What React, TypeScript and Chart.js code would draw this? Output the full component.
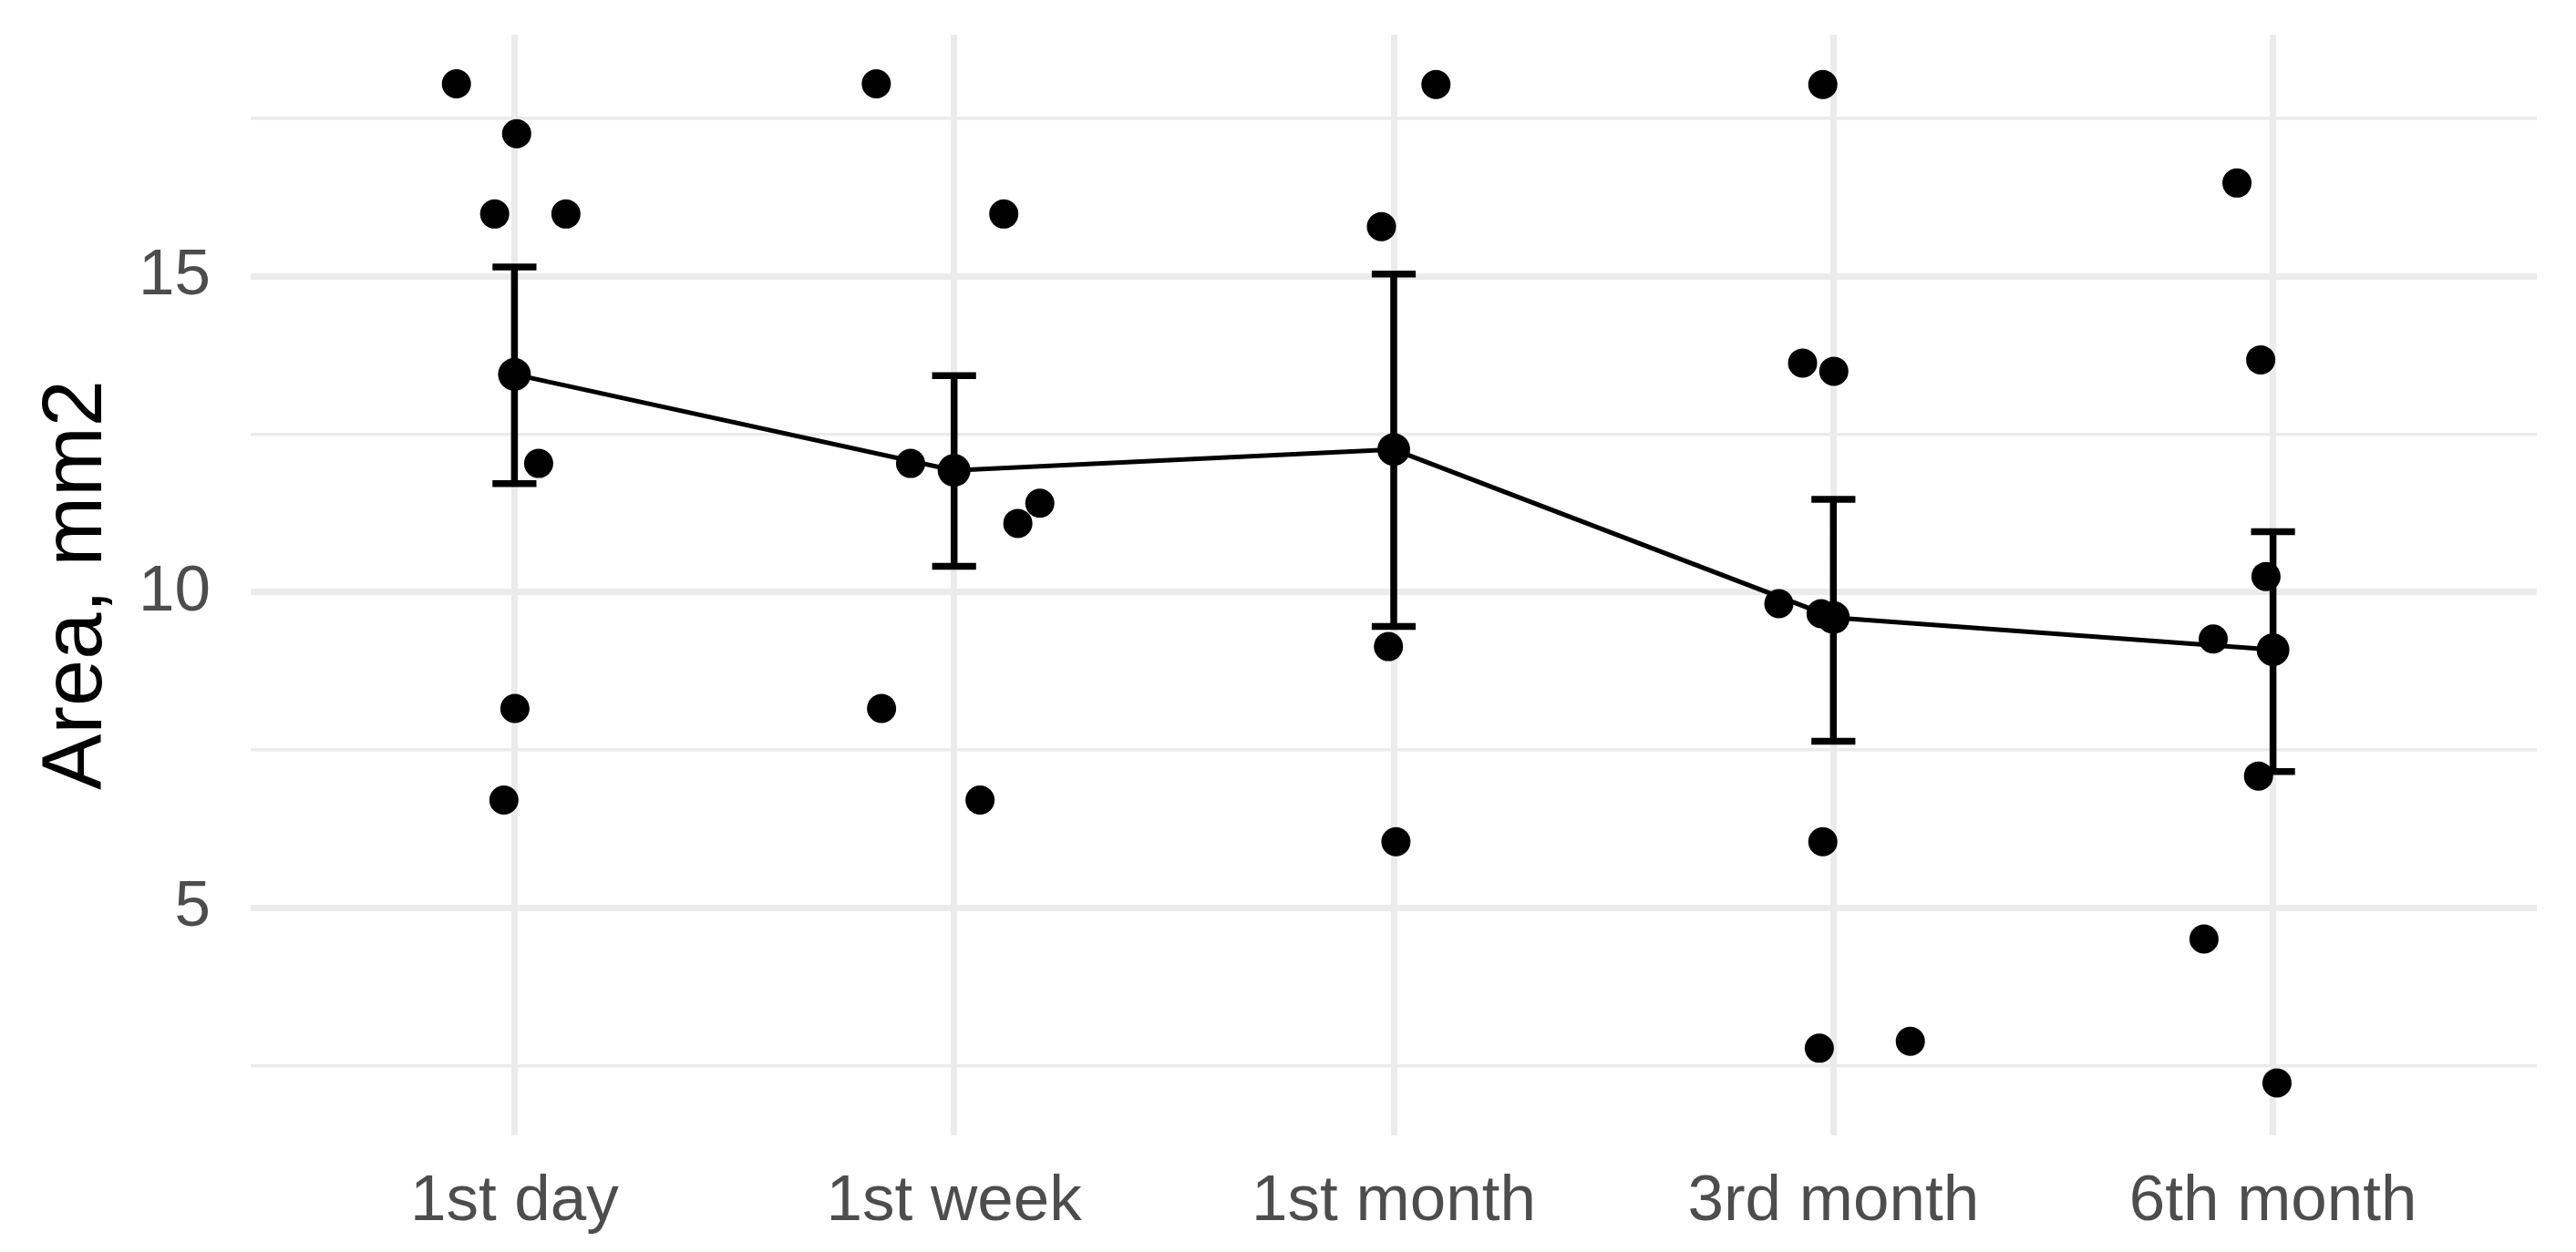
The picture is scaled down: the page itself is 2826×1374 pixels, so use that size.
import React, { useEffect, useRef } from "react";
import { Chart, registerables } from "chart.js";

Chart.register(...registerables);

// Categories (x axis)
const categories = ["1st day", "1st week", "1st month", "3rd month", "6th month"];

const day1Values = [18.05, 17.26, 15.99, 15.99, 12.04, 8.16, 6.71];
const day1Jitter = [-0.132, 0.005, -0.045, 0.117, 0.055, 0.001, -0.024];

const week1Values = [18.05, 15.99, 12.04, 11.09, 11.41, 8.16, 6.71];
const week1Jitter = [-0.177, 0.113, -0.099, 0.145, 0.195, -0.165, 0.059];

const month1Values = [18.04, 15.79, 9.14, 6.05];
const month1Jitter = [0.096, -0.028, -0.012, 0.005];

const month3Values = [18.04, 13.63, 13.5, 9.82, 9.66, 6.05, 2.78, 2.89];
const month3Jitter = [-0.024, -0.07, 0.001, -0.124, -0.028, -0.024, -0.032, 0.175];

const month6Values = [16.48, 13.68, 10.25, 9.26, 7.09, 4.51, 2.23];
const month6Jitter = [-0.082, -0.028, -0.016, -0.136, -0.033, -0.157, 0.009];

// Summary: mean and error bar (mean ± SE) per time point
const meanValues = [13.45, 11.93, 12.26, 9.6, 9.09];
const errLow = [11.72, 10.41, 9.46, 7.64, 7.16];
const errHigh = [15.15, 13.43, 15.04, 11.47, 10.96];

// Axis
const yMin = 1.4;
const yMax = 18.83;
const yStep = 2.5;
const yLabelEvery = 5;
const yTitle = "Area, mm2";

const groupValues = [day1Values, week1Values, month1Values, month3Values, month6Values];
const groupJitter = [day1Jitter, week1Jitter, month1Jitter, month3Jitter, month6Jitter];

const FONT = "'Liberation Sans', Arial, sans-serif";

export default function App() {
  const canvasRef = useRef<HTMLCanvasElement | null>(null);

  useEffect(() => {
    const canvas = canvasRef.current;
    if (!canvas) return;

    const points: { x: number; y: number }[] = [];
    groupValues.forEach((vals, gi) => {
      vals.forEach((v, k) => {
        points.push({ x: gi + groupJitter[gi][k], y: v });
      });
    });

    const meanData = meanValues.map((m, i) => ({ x: i, y: m }));

    const capHalf = 0.05;
    const errData: { x: number; y: number | null }[] = [];
    categories.forEach((_, i) => {
      errData.push({ x: i - capHalf, y: errHigh[i] });
      errData.push({ x: i + capHalf, y: errHigh[i] });
      errData.push({ x: i, y: null });
      errData.push({ x: i, y: errHigh[i] });
      errData.push({ x: i, y: errLow[i] });
      errData.push({ x: i, y: null });
      errData.push({ x: i - capHalf, y: errLow[i] });
      errData.push({ x: i + capHalf, y: errLow[i] });
      errData.push({ x: i, y: null });
    });

    const chart = new Chart(canvas, {
      type: "scatter",
      data: {
        datasets: [
          {
            type: "line",
            data: errData as any,
            borderColor: "#000000",
            borderWidth: 7.5,
            pointRadius: 0,
            spanGaps: false,
            fill: false,
            tension: 0,
            order: 1,
          },
          {
            type: "line",
            data: meanData,
            borderColor: "#000000",
            borderWidth: 5,
            pointRadius: 18,
            pointBackgroundColor: "#000000",
            pointBorderWidth: 0,
            fill: false,
            tension: 0,
            order: 2,
          },
          {
            type: "scatter",
            data: points,
            backgroundColor: "#000000",
            pointRadius: 16,
            pointBorderWidth: 0,
            showLine: false,
            order: 3,
          },
        ],
      },
      options: {
        animation: false,
        responsive: false,
        maintainAspectRatio: false,
        layout: { padding: { left: 0, right: 43, top: 38, bottom: 0 } },
        plugins: {
          legend: { display: false },
          tooltip: { enabled: false },
        },
        scales: {
          x: {
            type: "linear",
            min: -0.6,
            max: 4.6,
            afterFit: (s: any) => {
              s.height = 128;
              s.paddingLeft = 0;
              s.paddingRight = 0;
            },
            border: { display: false },
            grid: {
              color: "#EBEBEB",
              lineWidth: 7,
              drawTicks: false,
            },
            ticks: {
              stepSize: 1,
              includeBounds: false,
              autoSkip: false,
              maxRotation: 0,
              padding: 31,
              color: "#4D4D4D",
              font: { family: FONT, size: 71 },
              callback: (v: any) => categories[v as number] ?? "",
            },
          },
          y: {
            type: "linear",
            min: yMin,
            max: yMax,
            afterFit: (s: any) => {
              s.width = 275;
              s.paddingTop = 0;
              s.paddingBottom = 0;
            },
            border: { display: false },
            grid: {
              color: "#EBEBEB",
              lineWidth: (ctx: any) =>
                ctx.tick && Math.abs(ctx.tick.value % yLabelEvery) < 1e-6 ? 7 : 3.5,
              drawTicks: false,
            },
            ticks: {
              stepSize: yStep,
              includeBounds: false,
              autoSkip: false,
              padding: 44,
              color: "#4D4D4D",
              font: { family: FONT, size: 71 },
              callback: (v: any) =>
                Math.abs((v as number) % yLabelEvery) < 1e-6 ? String(v) : "",
            },
            title: {
              display: true,
              text: yTitle,
              color: "#000000",
              font: { family: FONT, size: 92 },
              padding: { top: 30, bottom: 0 },
            },
          },
        },
      },
    });

    return () => {
      chart.destroy();
    };
  }, []);

  return (
    <div
      style={{
        position: "fixed",
        left: 0,
        top: 0,
        width: 2826,
        height: 1374,
        background: "#ffffff",
        overflow: "hidden",
      }}
    >
      <canvas ref={canvasRef} width={2826} height={1374} style={{ display: "block" }} />
    </div>
  );
}
